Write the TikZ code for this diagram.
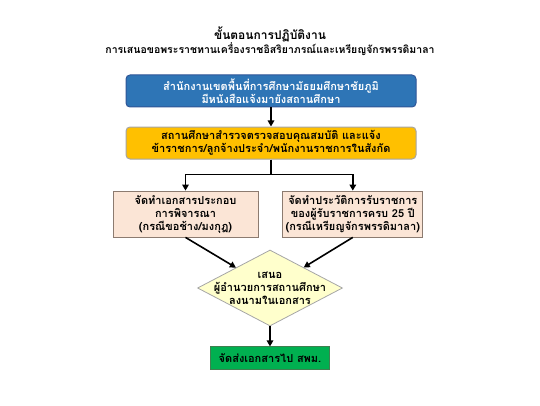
\documentclass[tikz,border=0pt]{standalone}
\usepackage{fontspec}
\setmainfont[Script=Thai]{Loma}
\usetikzlibrary{arrows.meta,positioning,shapes.geometric}
\definecolor{officeblue}{HTML}{2E75B6}
\definecolor{blueedge}{HTML}{2F5597}
\definecolor{gold}{HTML}{FFC000}
\definecolor{goldedge}{HTML}{A5A5A5}
\definecolor{peach}{HTML}{FBE5D6}
\definecolor{peachedge}{HTML}{8C7B70}
\definecolor{paleyellow}{HTML}{FFFFCC}
\definecolor{paleedge}{HTML}{A6A6A6}
\definecolor{sendgreen}{HTML}{00B050}
\definecolor{greenedge}{HTML}{3F7F4F}

\begin{document}
\begin{tikzpicture}[x=1pt,y=1pt,node distance=19pt,
    font=\fontsize{11}{13}\selectfont\bfseries,
    notice/.style={draw=blueedge,line width=1pt,rounded corners=4pt,fill=officeblue,text=white,align=center,minimum width=290pt,minimum height=32pt,inner sep=0pt},
    survey/.style={draw=goldedge,line width=1pt,rounded corners=4pt,fill=gold,align=center,minimum width=290pt,minimum height=32pt,inner sep=0pt},
    prepare/.style={draw=peachedge,line width=0.8pt,fill=peach,align=center,minimum height=46pt,inner sep=0pt},
    decision/.style={diamond,draw=paleedge,line width=0.8pt,fill=paleyellow,minimum width=145pt,minimum height=76pt,inner sep=0pt},
    dispatch/.style={draw=greenedge,line width=0.8pt,fill=sendgreen,minimum width=119pt,minimum height=23pt,inner sep=0pt},
    arr/.style={-{Triangle[length=6pt,width=6.5pt]},line width=1.6pt},
    link/.style={line width=1.6pt}]
    \useasboundingbox (0,0) rectangle (540,405);
    % title
    \node[align=center,font=\fontsize{10.5}{12.5}\selectfont\bfseries] (title) at (270,364) {{\fontsize{12}{13}\selectfont ขั้นตอนการปฏิบัติงาน}\\การเสนอขอพระราชทานเครื่องราชอิสริยาภรณ์และเหรียญจักรพรรดิมาลา};
    % steps
    \node[notice] (office) at (271,314) {สำนักงานเขตพื้นที่การศึกษามัธยมศึกษาชัยภูมิ\\มีหนังสือแจ้งมายังสถานศึกษา};
    \node[survey,below=of office] (check) {สถานศึกษาสำรวจตรวจสอบคุณสมบัติ และแจ้ง\\ข้าราชการ/ลูกจ้างประจำ/พนักงานราชการในสังกัด};
    \node[prepare,minimum width=145pt] (docs) at (185.5,191) {จัดทำเอกสารประกอบ\\การพิจารณา\\(กรณีขอช้าง/มงกุฎ)};
    \node[prepare,minimum width=140pt,right=24pt of docs] (record) {จัดทำประวัติการรับราชการ\\ของผู้รับราชการครบ 25 ปี\\(กรณีเหรียญจักรพรรดิมาลา)};
    \node[decision] (sign) at (270,117) {};
    \node[align=center] (signtext) at (sign) {เสนอ\\ผู้อำนวยการสถานศึกษา\\ลงนามในเอกสาร};
    \node[dispatch,below=20pt of sign] (send) {จัดส่งเอกสารไป สพม.};
    % connectors
    \coordinate (split) at ([yshift=-15pt]check.south);
    \draw[arr] (office) -- (check);
    \draw[link] (check) -- (split);
    \draw[arr] (split) -| (docs);
    \draw[arr] (split) -| (record);
    \draw[arr] (docs.south) -- (sign);
    \draw[arr] (record.south) -- (sign);
    \draw[arr] (sign) -- (send);
\end{tikzpicture}
\end{document}
